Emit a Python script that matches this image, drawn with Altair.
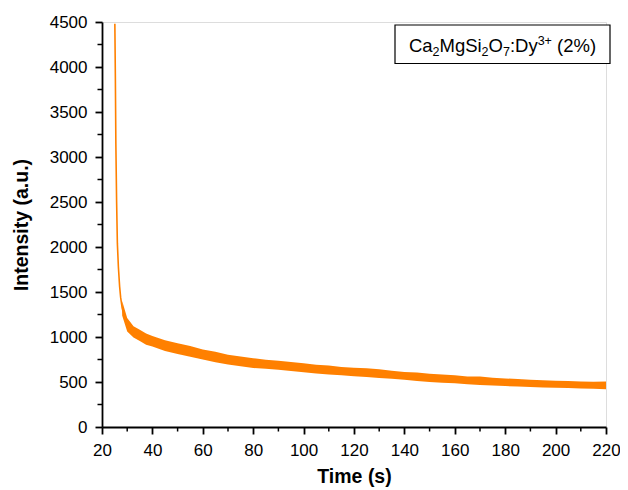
import altair as alt
import pandas as pd

# Main decay curve (centre line)
time_c = [25.1, 25.3, 25.5, 25.8, 26.1, 26.5, 27.0, 27.4, 28.0, 28.6, 29.0, 30.0, 31.6,
          33.0, 35.2, 37.0, 40, 44.5, 50, 55, 60, 70, 80, 90, 100, 110, 120, 130, 140,
          150, 160, 170, 180, 190, 200, 210, 220]
inten_c = [4480, 3900, 3150, 2500, 2040, 1780, 1560, 1440, 1320, 1258, 1217, 1128, 1069,
           1040, 1010, 975, 950, 900, 868, 835, 805, 748, 712, 685, 656, 630, 610, 592, 568,
           548, 530, 512, 497, 486, 475, 467, 460]

# Noise envelope (upper / lower edges)
time_b = [28, 30, 32.5, 35, 37.5, 40, 45, 50, 55, 60, 65, 70, 75, 80, 85, 90, 95, 100, 105,
          110, 115, 120, 125, 130, 135, 140, 145, 150, 155, 160, 165, 170, 175, 180, 185,
          190, 195, 200, 205, 210, 215, 220]
upper_b = [1400, 1210, 1120, 1080, 1040, 1010, 965, 930, 900, 862, 835, 802, 782, 765, 748,
           737, 722, 707, 692, 682, 668, 657, 652, 642, 626, 612, 605, 592, 582, 575, 562,
           560, 547, 540, 532, 526, 520, 515, 510, 506, 502, 505]
lower_b = [1240, 1060, 995, 955, 915, 895, 845, 810, 780, 750, 720, 695, 675, 655, 648, 635,
           622, 608, 594, 584, 574, 565, 555, 545, 535, 525, 512, 500, 493, 485, 476, 468,
           460, 455, 450, 445, 440, 436, 432, 428, 425, 420]

x_major = list(range(20, 221, 20))
x_minor = list(range(30, 220, 20))
y_major = list(range(0, 4501, 500))
y_minor = list(range(250, 4500, 500))

# legend text pieces: (text, kind) n = normal, sub = subscript, sup = superscript, gap = space
legend_parts = [("Ca", "n"), ("2", "sub"), ("MgSi", "n"), ("2", "sub"), ("O", "n"),
                ("7", "sub"), (":Dy", "n"), ("3+", "sup"), (" ", "gap"), ("(2%)", "n")]

W, H = 504, 405
ORANGE = "#ff8000"
FONT = "Liberation Sans"
MAIN_FS, SMALL_FS = 18.5, 12.5
MAJ, MIN = 7, 4.5

# approximate advance widths (em) of Liberation Sans glyphs, for laying out the legend pieces
ADV = {"C": .722, "a": .556, "M": .833, "g": .556, "S": .667, "i": .222, "O": .778,
       ":": .278, "D": .722, "y": .5, " ": .278, "(": .333, ")": .333,
       "%": .889, "2": .556, "3": .556, "7": .556, "+": .584}

line_df = pd.DataFrame({"t": time_c, "v": inten_c})
band_df = pd.DataFrame({"t": time_b, "lo": lower_b, "hi": upper_b})

xscale = alt.Scale(domain=[20, 220], nice=False, zero=False)
yscale = alt.Scale(domain=[0, 4500], nice=False)

common_axis = dict(grid=False, domainColor="black", domainWidth=1.8, ticks=True,
                   tickColor="black", tickOpacity=1, tickWidth=1.8, tickSize=MAJ,
                   labelFont=FONT, labelFontSize=17, labelColor="black",
                   labelFlush=False, labelOverlap=False,
                   titleFont=FONT, titleFontSize=19.5, titleFontWeight="bold",
                   titleColor="black")

xaxis = alt.Axis(values=x_major, labelPadding=8, title="Time (s)", titlePadding=9,
                 **common_axis)
yaxis = alt.Axis(values=y_major, labelPadding=8, format="d", title="Intensity (a.u.)",
                 titlePadding=18, **common_axis)

band = alt.Chart(band_df).mark_area(color=ORANGE, opacity=1).encode(
    x=alt.X("t:Q", scale=xscale, axis=xaxis),
    y=alt.Y("lo:Q", scale=yscale, axis=yaxis),
    y2="hi:Q",
)

line = alt.Chart(line_df).mark_line(color=ORANGE, strokeWidth=1.6).encode(
    x=alt.X("t:Q", scale=xscale),
    y=alt.Y("v:Q", scale=yscale),
)

# minor ticks drawn as short rules through the scales
def xticks(vals, size, w):
    return alt.Chart(pd.DataFrame({"tick": vals})).mark_rule(
        color="black", strokeWidth=w).encode(
        x=alt.X("tick:Q", scale=xscale), y=alt.value(H), y2=alt.value(H + size))

def yticks(vals, size, w):
    return alt.Chart(pd.DataFrame({"tick": vals})).mark_rule(
        color="black", strokeWidth=w).encode(
        y=alt.Y("tick:Q", scale=yscale), x=alt.value(0), x2=alt.value(-size))

tick_layers = [xticks(x_minor, MIN, 1.5), yticks(y_minor, MIN, 1.5)]

# legend box
box_df = pd.DataFrame({"k": [0]})
box = alt.Chart(box_df).mark_rect(fill="white", stroke="black", strokeWidth=1.2).encode(
    x=alt.value(293), x2=alt.value(508), y=alt.value(3), y2=alt.value(41.5)
)

def width(s, fs):
    return sum(ADV.get(ch, .556) for ch in s) * fs

def size_of(kind):
    return SMALL_FS if kind in ("sub", "sup") else MAIN_FS

total = sum(width(t, size_of(k)) for t, k in legend_parts)
x0 = (293 + 508) / 2 - total / 2
base = 30
legend_layers = []
cx = x0
for t, k in legend_parts:
    fs = size_of(k)
    if k != "gap":
        yb = base + (4 if k == "sub" else (-7 if k == "sup" else 0))
        legend_layers.append(
            alt.Chart(pd.DataFrame({"label": [t]})).mark_text(
                font=FONT, fontSize=fs, color="black", align="left", baseline="alphabetic"
            ).encode(x=alt.value(cx), y=alt.value(yb), text="label:N")
        )
    cx += width(t, fs)

chart = alt.layer(band, line, *tick_layers, box, *legend_layers).properties(
    width=W, height=H,
    autosize=alt.AutoSizeParams(type="none"),
    padding={"left": 94, "top": 14, "right": 14, "bottom": 60},
).configure_view(stroke=None).configure(background="white")

chart.save("out.html", embed_options={"renderer": "svg", "actions": False})
